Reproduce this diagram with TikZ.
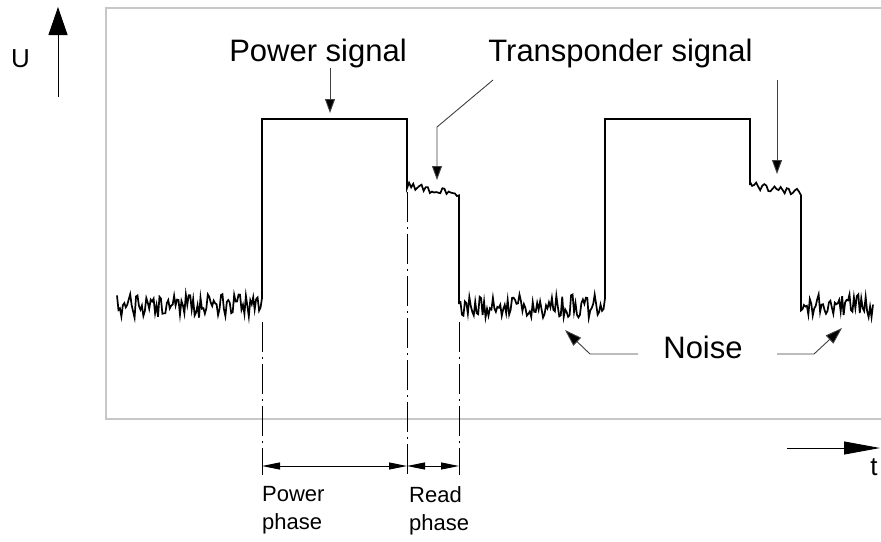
\documentclass[tikz,border=0pt]{standalone}
\usepackage{fontspec}
\setmainfont{Liberation Sans}
\usetikzlibrary{arrows.meta,positioning}
\tikzset{
  frame/.style={draw=black!22, line width=2pt},
  sig/.style={line width=1.7pt, line join=miter},
  guide/.style={line width=0.9pt, dash pattern=on 30pt off 5pt on 2pt off 5pt},
  dim/.style={line width=0.9pt, {Triangle[length=18pt,width=7pt]}-{Triangle[length=18pt,width=7pt]}},
  lead/.style={line width=0.9pt, black!75, -{Triangle[length=14pt,width=10pt,fill=black]}},
  big/.style={font=\fontsize{31}{36}\selectfont, inner sep=0pt},
  axislbl/.style={font=\fontsize{26}{30}\selectfont, inner sep=0pt},
  phaselbl/.style={font=\fontsize{22}{28}\selectfont, inner sep=0pt, align=left, anchor=north west},
}
\begin{document}
\begin{tikzpicture}[x=1pt, y=-1pt]
            \useasboundingbox (0,0) rectangle (881,541);
            % Rahmen
            \draw[frame] (881,8) -- (106,8) -- (106,419) -- (881,419);

            % Achsen
            \node[axislbl, anchor=base west] (ulbl) at (11,67) {U};
            \coordinate (ubot) at (58,97);
            \coordinate (utop) at (58,7);
            \draw[line width=0.9pt, -{Triangle[length=28pt,width=19pt]}] (ubot) -- (utop);
            \node[axislbl, anchor=base] (tlbl) at (874,475) {t};
            \coordinate (tleft) at (787,448);
            \coordinate (tright) at (880,448);
            \draw[line width=0.9pt, -{Triangle[length=36pt,width=13pt]}] (tleft) -- (tright);

            % Signal
            \pgfmathsetseed{4711}
            \draw[sig] plot[domain=117:262, samples=100] (\x,{306+12*rand})
              -- (262,119) -- (407,119) -- (407,186)
              -- plot[domain=407:459, samples=26] (\x,{186+7*(\x-407)/52+4*rand})
              -- (459,304)
              -- plot[domain=459:605, samples=100] (\x,{306+12*rand})
              -- (605,119) -- (750,119) -- (750,185)
              -- plot[domain=750:801, samples=26] (\x,{185+8*(\x-750)/51+4*rand})
              -- (801,304)
              -- plot[domain=801:873, samples=50] (\x,{306+12*rand});

            % Phasen
            \coordinate (g1t) at (262,322);
            \coordinate (g1b) at (262,475);
            \coordinate (g2t) at (407,192);
            \coordinate (g2b) at (407,475);
            \coordinate (g3t) at (459,322);
            \coordinate (g3b) at (459,475);
            \draw[guide] (g1t) -- (g1b);
            \draw[guide] (g2t) -- (g2b);
            \draw[guide] (g3t) -- (g3b);
            \draw[dim] ([yshift=9pt]g1b) -- ([yshift=9pt]g2b);
            \draw[dim] ([yshift=9pt]g2b) -- ([yshift=9pt]g3b);
            \node[phaselbl] (pwph) at (262,486) {Power\\phase};
            \node[phaselbl] (rdph) at (409,486) {Read\\phase};

            % Beschriftung
            \node[big, anchor=base] (powlbl) at (318,61) {Power signal};
            \coordinate (powtip) at (330,113);
            \draw[lead] (powlbl.south -| powtip) -- (powtip);

            \node[big, anchor=base] (trlbl) at (620.5,61) {Transponder signal};
            \coordinate (tra) at (493,80);
            \coordinate (trk) at (437,127);
            \coordinate (trtip) at (437,180);
            \draw[lead] (tra) -- (trk) -- (trtip);
            \coordinate (trb) at (777,80);
            \coordinate (trtip2) at (777,174);
            \draw[lead] (trb) -- (trtip2);

            \node[big, anchor=base] (noiselbl) at (703,358) {Noise};
            \coordinate (nla) at (638,354);
            \coordinate (nlk) at (590,354);
            \coordinate (nltip) at (565,330);
            \draw[lead, -{Triangle[length=17pt,width=11pt,fill=black]}] (nla) -- (nlk) -- (nltip);
            \coordinate (nra) at (777,354);
            \coordinate (nrk) at (814,354);
            \coordinate (nrtip) at (842,328);
            \draw[lead, -{Triangle[length=17pt,width=11pt,fill=black]}] (nra) -- (nrk) -- (nrtip);
\end{tikzpicture}
\end{document}
